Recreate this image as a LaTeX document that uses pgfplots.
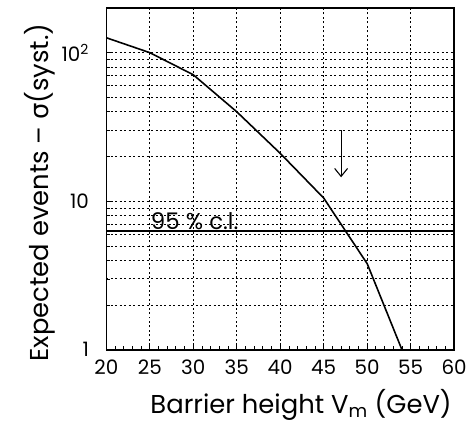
\documentclass[border=0pt]{standalone}
\usepackage{fontspec}
\setmainfont{Poppins}
\newfontfamily\greek{DejaVu Sans}
\usepackage{pgfplots}
\pgfplotsset{compat=1.18}
\usetikzlibrary{arrows.meta}

\begin{document}
\begin{tikzpicture}
\begin{axis}[
    scale only axis,
    width=350pt, height=344pt,
    ymode=log,
    xmin=20, xmax=60,
    ymin=1, ymax=200,
    xtick={20,25,...,60},
    minor x tick num=4,
    ytick={1,10,100},
    yticklabels={1,10,10\textsuperscript{2}},
    minor ytick={2,3,4,5,6,7,8,9,20,30,40,50,60,70,80,90},
    xtick pos=bottom, ytick pos=left,
    tick align=inside,
    major tick length=6pt, minor tick length=4pt,
    xmajorgrids, ymajorgrids, yminorgrids,
    grid style={black, dash pattern=on 2pt off 2.5pt, line width=0.9pt},
    axis line style={line width=1.6pt},
    every tick/.style={black, line width=0.8pt},
    /pgf/number format/assume math mode=true,
    tick label style={font=\fontsize{20}{22}\selectfont},
    xticklabel style={yshift=-7pt},
    yticklabel style={xshift=-14pt},
    label style={font=\fontsize{26}{30}\selectfont},
    xlabel={Barrier height V\textsubscript{m} (GeV)},
    ylabel={Expected events – {\greek σ}(syst.)},
    xlabel style={at={(ticklabel cs:0.56)}, yshift=-8pt},
    ylabel style={at={(ticklabel cs:0.46)}},
]
\addplot[black, line width=1.6pt] coordinates {
(20,126) (25,100) (30,71) (35,40) (40,21) (45,10.5) (50,3.8) (54,1)
};
\addplot[black, line width=1.4pt] coordinates {(20,6.3) (60,6.3)};
\node[anchor=south west, inner sep=1pt, font=\fontsize{23}{24}\selectfont] at (axis cs:25,6.3) {95 \% c.l.};
\draw[-{Straight Barb[length=8pt, width=13pt]}, line width=1.1pt] (axis cs:47,30) -- (axis cs:47,14.5);
\coordinate (ll) at (rel axis cs:0,0);
\coordinate (ur) at (rel axis cs:1,1);
\end{axis}
\path (ll) ++(-107pt,-74pt) (ur) ++(13pt,8pt);
\end{tikzpicture}
\end{document}
